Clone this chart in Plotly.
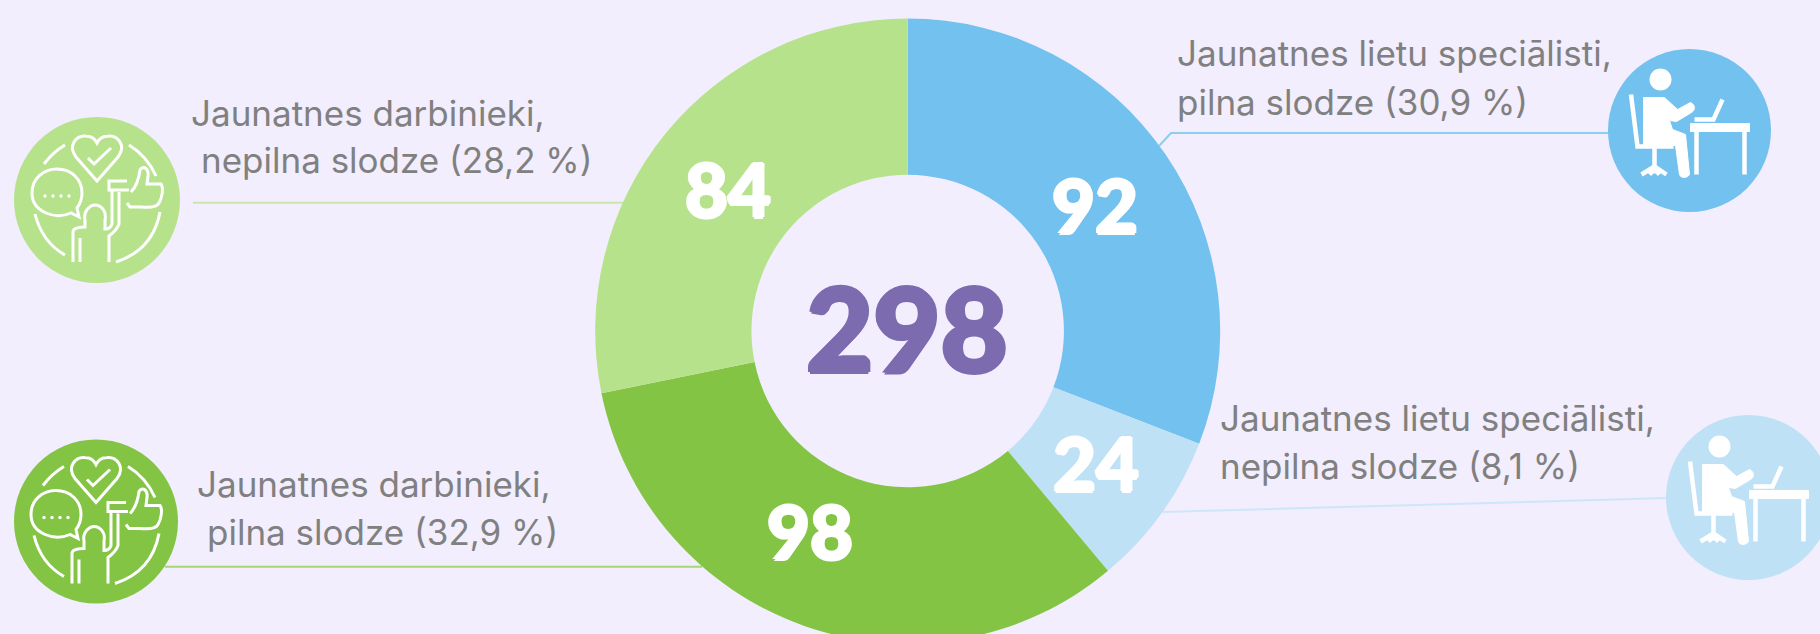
import plotly.graph_objects as go

# ---- data ----
categories = ["Jaunatnes lietu speciālisti, pilna slodze",
              "Jaunatnes lietu speciālisti, nepilna slodze",
              "Jaunatnes darbinieki, pilna slodze",
              "Jaunatnes darbinieki, nepilna slodze"]
values = [92, 24, 98, 84]
total_label = "298"
colors = ["#72C1EE", "#BFE1F5", "#84C444", "#B7E28C"]
label_lines = [("Jaunatnes lietu speciālisti,", "pilna slodze (30,9 %)"),
               ("Jaunatnes lietu speciālisti,", "nepilna slodze (8,1 %)"),
               ("Jaunatnes darbinieki,", "pilna slodze (32,9 %)"),
               ("Jaunatnes darbinieki,", "nepilna slodze (28,2 %)")]

# ---- layout constants (pixels) ----
W, H = 1820, 662
CX, CY, R = 907.7, 331, 312.5
BG = "#F2EEFD"
TEXT = "#808080"
value_pos = [(1095, 205), (1096, 462), (810, 530), (728, 188)]
line_pos = [((1175, 53), (1175, 102)), ((1218, 418), (1218, 466)),
            ((195, 484), (205, 532)), ((189, 113), (199, 160))]
icons = [("desk", 1689.5, 130.5, 81.5, 0), ("desk", 1748.5, 497.5, 82.5, 1),
         ("hand", 96, 521.5, 82, 2), ("hand", 97, 200, 83, 3)]
leaders = [([(1159, 146), (1171, 133), (1610, 133)], "#8CCDF0"),
           ([(1163, 512), (1668, 498)], "#CDE7F7"),
           ([(165, 566.7), (702, 566.7)], "#A5D678"),
           ([(193, 202.7), (625, 202.7)], "#CBE6A8")]


def px(x, y):
    return x / W, 1 - y / H


def to_path(spec, cx, cy):
    out, is_x = [], True
    for tok in spec.split():
        if tok.isalpha():
            out.append(tok)
            is_x = True
        else:
            if is_x:
                out.append(f"{(cx + float(tok)) / W:.6f}")
            else:
                out.append(f"{1 - (cy + float(tok)) / H:.6f}")
            is_x = not is_x
    return " ".join(out)


HAND_STROKES = [
    # heart and check
    "M 0 -19 L -21 -43 C -30 -55 -20 -65 -11 -64 C -6 -64 -2 -61 0 -57 C 2 -61 6 -64 11 -64 C 20 -65 30 -55 21 -43 Z",
    "M -9 -42 L -3 -36 L 14 -52",
    # broken ring
    "M -53 -36 Q -44 -48 -32 -55",
    "M 32 -55 Q 50 -44 59 -24",
    "M -62 14 Q -55 42 -32 55",
    "M 63 12 Q 56 50 19 62",
    # speech bubble
    "M -18 17 L -26 13 C -42 20 -65 12 -65 -7 C -65 -22 -53 -31 -40 -31 C -26 -31 -15 -21 -15 -7 C -15 0 -17 4 -20 8 Z",
    # thumb
    "M 32 -10 L 12 -10 L 12 -19 L 30 -19 M 34 -8 C 40 -14 42 -22 43 -30 C 46 -35 52 -32 51 -24 L 50 -16 L 64 -16 C 67 -12 65 -2 62 3 C 60 7 54 8 44 7 L 33 7 L 30 3",
    # person with raised arm
    "M -24 62 L -24 32 C -24 28 -18 27 -12 27 L -12 20 C -14 10 -6 5 -2 5 C 4 5 10 11 8 20 L 8 29 C 12 29 14 27 15 24 L 15 -10",
    "M 22 -8 L 22 24 C 20 30 16 33 12 36 L 12 62",
    "M -17 62 L -17 38",
]

DESK_STROKES = [
    "M -58.5 -36 L -52 16 L -16 16",
    "M -35 16 L -35 43",
    "M -48 44 L -35 36 L -23 44",
    "M -35 38 L -40 44 M -35 38 L -30 44",
    "M 33 -31 L 24 -11 L 5 -11",
    "M 7 -3 L 7 44",
    "M 55 -3 L 55 44",
]
DESK_FILLS = [
    "M -46 -33 L -25 -33 L -12 -21 L 1 -28 C 6 -26 6 -20 2 -18 L -13 -9 L -20 -10 L -17 -1 L -4 4 L 0 44 C -2 48 -9 48 -10 44 L -14 15 L -46 15 Z",
    "M 1 -7 L 60 -7 L 60 1 L 1 1 Z",
]

shapes = []
for pts, col in leaders:
    d = "M " + " L ".join(f"{px(*p)[0]:.6f} {px(*p)[1]:.6f}" for p in pts)
    shapes.append(dict(type="path", path=d, xref="paper", yref="paper", layer="below",
                       line=dict(color=col, width=2)))

for kind, cx, cy, r, ci in icons:
    x0, y1 = px(cx - r, cy - r)
    x1, y0 = px(cx + r, cy + r)
    shapes.append(dict(type="circle", xref="paper", yref="paper", x0=x0, x1=x1, y0=y0, y1=y1,
                       fillcolor=colors[ci], line=dict(width=0)))
    if kind == "hand":
        for s in HAND_STROKES:
            shapes.append(dict(type="path", path=to_path(s, cx, cy), xref="paper", yref="paper",
                               line=dict(color="white", width=3)))
        for dx in (-52, -44, -36, -28):
            x0, y1 = px(cx + dx - 1.7, cy - 5.7)
            x1, y0 = px(cx + dx + 1.7, cy - 2.3)
            shapes.append(dict(type="circle", xref="paper", yref="paper", x0=x0, x1=x1, y0=y0, y1=y1,
                               fillcolor="white", line=dict(width=0)))
    else:
        x0, y1 = px(cx - 40, cy - 62)
        x1, y0 = px(cx - 18, cy - 40)
        shapes.append(dict(type="circle", xref="paper", yref="paper", x0=x0, x1=x1, y0=y0, y1=y1,
                           fillcolor="white", line=dict(width=0)))
        for s in DESK_FILLS:
            shapes.append(dict(type="path", path=to_path(s, cx, cy), xref="paper", yref="paper",
                               fillcolor="white", line=dict(color="white", width=1)))
        for s in DESK_STROKES:
            shapes.append(dict(type="path", path=to_path(s, cx, cy), xref="paper", yref="paper",
                               line=dict(color="white", width=4.5)))

annotations = []
for v, (x, y) in zip(values, value_pos):
    fx, fy = px(x, y)
    annotations.append(dict(text=str(v), x=fx, y=fy, xref="paper", yref="paper", showarrow=False,
                            xanchor="center", yanchor="middle",
                            font=dict(family="Lato", size=74, color="white", weight=900,
                                      shadow="1.5px 0 0 white, -1.5px 0 0 white, 0 1.5px 0 white, 0 -1.5px 0 white")))
fx, fy = px(CX - 1, 327)
annotations.append(dict(text=total_label, x=fx, y=fy, xref="paper", yref="paper", showarrow=False,
                        xanchor="center", yanchor="middle",
                        font=dict(family="Lato", size=116, color="#7D6BB0", weight=900,
                                  shadow="2px 0 0 #7D6BB0, -2px 0 0 #7D6BB0, 0 2px 0 #7D6BB0, 0 -2px 0 #7D6BB0")))
for lines, poss in zip(label_lines, line_pos):
    for t, (x, y) in zip(lines, poss):
        fx, fy = px(x, y)
        annotations.append(dict(text=t, x=fx, y=fy, xref="paper", yref="paper", showarrow=False,
                                xanchor="left", yanchor="middle",
                                font=dict(family="Inter", size=35, color=TEXT)))

fig = go.Figure(go.Pie(
    labels=categories, values=values, sort=False, direction="clockwise", rotation=0, hole=0.5,
    marker=dict(colors=colors, line=dict(width=0)), textinfo="none", showlegend=False,
    domain=dict(x=[(CX - R) / W, (CX + R) / W], y=[(H - CY - R) / H, (H - CY + R) / H]),
))
fig.update_layout(width=W, height=H, margin=dict(l=0, r=0, t=0, b=0), autosize=False,
                  paper_bgcolor=BG, plot_bgcolor=BG, showlegend=False,
                  shapes=shapes, annotations=annotations)
fig.write_html("out.html", config=dict(displayModeBar=False),
               post_script="document.documentElement.style.overflow='hidden';document.body.style.overflow='hidden';document.body.style.margin='0';document.body.style.background='%s';" % BG)
